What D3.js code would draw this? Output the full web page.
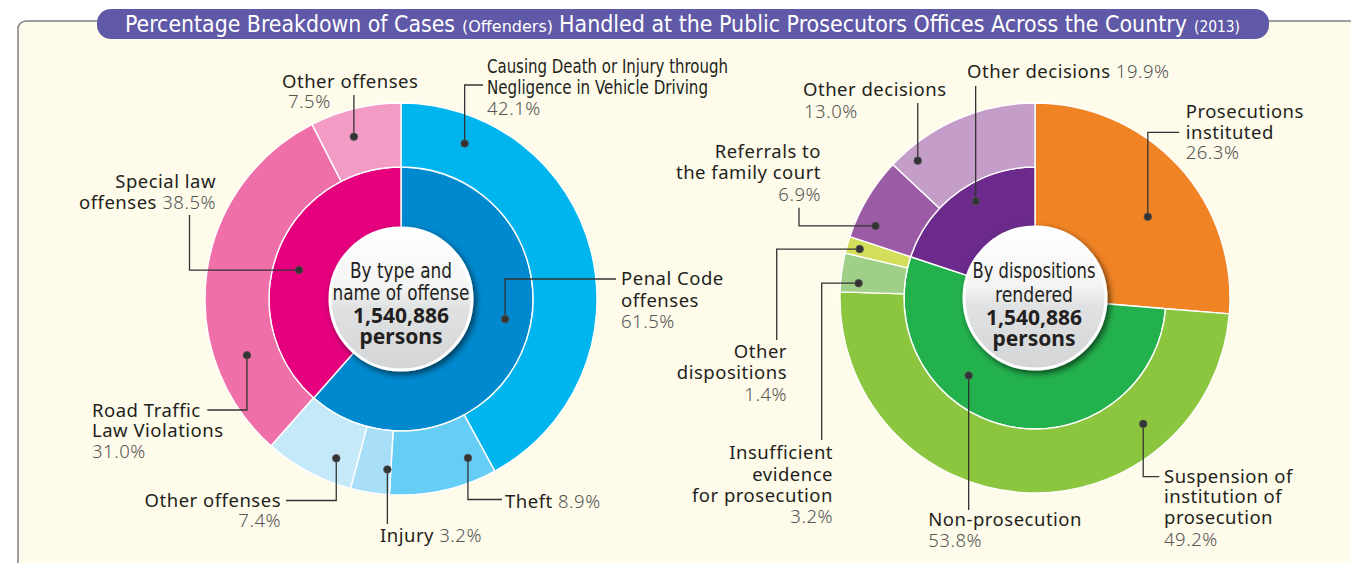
<!DOCTYPE html>
<html><head><meta charset="utf-8">
<script src="https://cdn.jsdelivr.net/npm/d3@7"></script>
<style>
html,body{margin:0;padding:0;background:#fff;}
svg{display:block;}
.cond{font-family:"Liberation Sans Narrow","Arial Narrow","DejaVu Sans Condensed","Roboto Condensed","Liberation Sans",sans-serif;font-stretch:condensed;}
.lbl{font-family:"Noto Sans","Open Sans",sans-serif;font-size:18.5px;letter-spacing:0.5px;}
.n{fill:#231f20;font-weight:450;}
.p{fill:#555;font-weight:300;}
</style></head>
<body><svg id="chart" width="1351" height="563"></svg>
<script>
// ---------------- data ----------------
const offenseInnerLabels = ["Penal Code offenses", "Special law offenses"];
const offenseInnerValues = [61.5, 38.5];
const offenseOuterLabels = ["Causing Death or Injury through Negligence in Vehicle Driving", "Theft", "Injury", "Other offenses (Penal Code)", "Road Traffic Law Violations", "Other offenses (Special law)"];
const offenseOuterValues = [42.1, 8.9, 3.2, 7.4, 31.0, 7.5];
const dispositionInnerLabels = ["Prosecutions instituted", "Non-prosecution", "Other decisions"];
const dispositionInnerValues = [26.3, 53.8, 19.9];
const dispositionOuterLabels = ["Suspension of institution of prosecution", "Insufficient evidence for prosecution", "Other dispositions", "Referrals to the family court", "Other decisions"];
const dispositionOuterValues = [49.2, 3.2, 1.4, 6.9, 13.0];
const totalPersons = 1540886;
const titleParts = ["Percentage Breakdown of Cases", "(Offenders)", "Handled at the Public Prosecutors Offices Across the Country", "(2013)"];

// ---------------- styles ----------------
const offenseInnerColors = ["#0089cf", "#e6007e"];
const offenseOuterColors = ["#00b5ee", "#66cdf4", "#a8def8", "#c6e9f9", "#ef6fa8", "#f39bc4"];
const dispositionInnerColors = ["#f08324", "#23b14d", "#6b2a8c"];
const dispositionOuterColors = ["#8cc63e", "#a0d087", "#d3df5a", "#9c5ba5", "#c59dc9"];

const svg = d3.select("#chart");
const defs = svg.append("defs");
const grad = defs.append("linearGradient").attr("id","ctrGrad").attr("x1",0).attr("y1",0).attr("x2",0).attr("y2",1);
[["0%","#ffffff"],["42%","#f4f4f4"],["56%","#e0e1e2"],["100%","#d4d5d7"]].forEach(s=>grad.append("stop").attr("offset",s[0]).attr("stop-color",s[1]));
const flt = defs.append("filter").attr("id","shadow").attr("x","-30%").attr("y","-30%").attr("width","160%").attr("height","160%");
flt.append("feDropShadow").attr("dx",2.5).attr("dy",3).attr("stdDeviation",3).attr("flood-color","#000").attr("flood-opacity",0.6);

// panel
svg.append("rect").attr("x",18).attr("y",21).attr("width",1400).attr("height",700).attr("rx",8)
  .attr("fill","#fefbea").attr("stroke","#808080").attr("stroke-width",1.5);
// title pill
svg.append("rect").attr("x",97).attr("y",9).attr("width",1172).attr("height",30).attr("rx",14)
  .attr("fill","#5f59a7");
const titleLayout = [
  {x:125, w:330, size:23.5},
  {x:462, w:91, size:16},
  {x:559, w:628, size:23.5},
  {x:1194, w:46, size:16}
];
titleParts.forEach((t,i)=>{
  const L = titleLayout[i];
  svg.append("text").attr("class","cond").attr("x",L.x).attr("y",32)
    .attr("font-size",L.size).attr("fill","#fff")
    .attr("textLength",L.w).attr("lengthAdjust","spacingAndGlyphs").text(t);
});

const fmtPct = v => d3.format(".1f")(v) + "%";
const fmtNum = d3.format(",");

function drawRing(g, values, colors, r0, r1, a0) {
  const pie = d3.pie().sort(null).startAngle(a0 || 0).endAngle(2*Math.PI);
  const arcs = pie(values);
  const arc = d3.arc().innerRadius(r0).outerRadius(r1);
  g.selectAll(null).data(arcs).enter().append("path")
    .attr("d", arc).attr("fill",(d,i)=>colors[i])
    .attr("stroke","#fff").attr("stroke-width",1.4).attr("stroke-linejoin","round");
  return arcs;
}

function drawCenter(g, lines) {
  g.append("circle").attr("r",71).attr("fill","url(#ctrGrad)").attr("stroke","#fff").attr("stroke-width",3)
    .attr("filter","url(#shadow)");
  lines.forEach(L=>{
    const t = g.append("text").attr("x",L.dx).attr("y",L.y).attr("text-anchor","middle").attr("fill","#231f20");
    if (L.bold) {
      t.attr("font-family","'Noto Sans','Open Sans',sans-serif").attr("font-weight",700).attr("font-size",21).text(L.text);
    } else {
      t.attr("class","cond").attr("font-size",22).attr("textLength",L.w).attr("lengthAdjust","spacingAndGlyphs").text(L.text);
    }
  });
}

function drawLabels(g, cx, cy, rings, specs) {
  specs.forEach(s=>{
    const d = rings[s.ring][s.i];
    const a = d.startAngle + s.t*(d.endAngle - d.startAngle);
    const x0 = cx + s.r*Math.sin(a), y0 = cy - s.r*Math.cos(a);
    let x = x0, y = y0, path = `M${x},${y}`;
    s.path.forEach(([c,v])=>{ if (c==="v") { y = v; } else { x = v; } path += `L${x},${y}`; });
    g.append("path").attr("d",path).attr("fill","none").attr("stroke","#333").attr("stroke-width",1.3);
    g.append("circle").attr("cx",x0).attr("cy",y0).attr("r",3.8).attr("fill","#333")
      .attr("stroke","#555").attr("stroke-width",0.8);
    s.lines.forEach(L=>{
      const pct = fmtPct(s.value);
      if (L.cond) {
        g.append("text").attr("class","cond").attr("x",L.x).attr("y",L.y).attr("font-size",19)
          .attr("fill","#231f20").attr("textLength",L.w).attr("lengthAdjust","spacingAndGlyphs").text(L.s[0][0]);
        return;
      }
      const t = g.append("text").attr("class","lbl").attr("x",L.x).attr("y",L.y).attr("text-anchor",L.a||"start");
      L.s.forEach(([txt,cls])=>{
        t.append("tspan").attr("class",cls).text(txt===null ? pct : txt);
      });
    });
  });
}

// ---------------- left chart ----------------
const LC = {x:401, y:299};
const gL = svg.append("g").attr("transform",`translate(${LC.x},${LC.y})`);
const offInner = drawRing(gL, offenseInnerValues, offenseInnerColors, 71, 132);
const offOuter = drawRing(gL, offenseOuterValues, offenseOuterColors, 132, 196);
drawCenter(gL, [
  {text:"By type and", dx:0, y:-21, w:102},
  {text:"name of offense", dx:0, y:1, w:137},
  {text:fmtNum(totalPersons), dx:0, y:24, bold:true},
  {text:"persons", dx:0, y:45, bold:true}
]);
const gLL = svg.append("g");
drawLabels(gLL, LC.x, LC.y, {inner:offInner, outer:offOuter}, [
  {ring:"outer", i:5, value:offenseOuterValues[5], t:0.40, r:169, path:[["v",95]],
    lines:[{x:282,y:87.5,s:[["Other offenses","n"]]},{x:288,y:108,s:[[null,"p"]]}]},
  {ring:"outer", i:0, value:offenseOuterValues[0], t:0.147, r:168, path:[["v",85],["h",483]],
    lines:[{x:487,y:72.5,cond:true,w:241,s:[["Causing Death or Injury through"]]},
           {x:487,y:93.5,cond:true,w:221,s:[["Negligence in Vehicle Driving"]]},
           {x:487,y:115,s:[[null,"p"]]}]},
  {ring:"inner", i:0, value:offenseInnerValues[0], t:0.456, r:106, path:[["v",279],["h",616]],
    lines:[{x:621,y:285,s:[["Penal Code","n"]]},{x:621,y:306.5,s:[["offenses","n"]]},{x:621,y:328,s:[[null,"p"]]}]},
  {ring:"inner", i:1, value:offenseInnerValues[1], t:0.465, r:106, path:[["h",189.5],["v",215]],
    lines:[{x:216,y:188.3,a:"end",s:[["Special law","n"]]},{x:216,y:209.3,a:"end",s:[["offenses ","n"],[null,"p"]]}]},
  {ring:"outer", i:4, value:offenseOuterValues[4], t:0.255, r:164, path:[["v",410],["h",207.3]],
    lines:[{x:92,y:416.7,s:[["Road Traffic","n"]]},{x:92,y:437.3,s:[["Law Violations","n"]]},{x:92,y:458.3,s:[[null,"p"]]}]},
  {ring:"outer", i:3, value:offenseOuterValues[3], t:0.27, r:172, path:[["v",500.5],["h",286]],
    lines:[{x:281,y:506.7,a:"end",s:[["Other offenses","n"]]},{x:281,y:526.7,a:"end",s:[[null,"p"]]}]},
  {ring:"outer", i:2, value:offenseOuterValues[2], t:0.1, r:171, path:[["v",524]],
    lines:[{x:380,y:542,s:[["Injury ","n"],[null,"p"]]}]},
  {ring:"outer", i:1, value:offenseOuterValues[1], t:0.18, r:172.5, path:[["v",499.5],["h",502]],
    lines:[{x:505,y:508,s:[["Theft ","n"],[null,"p"]]}]}
]);

// ---------------- right chart ----------------
const RC = {x:1035, y:298};
const gR = svg.append("g").attr("transform",`translate(${RC.x},${RC.y})`);
const dispInnerPie = d3.pie().sort(null)(dispositionInnerValues);
// Prosecutions instituted spans both rings
const dispInner = [];
dispInnerPie.forEach((d,i)=>{
  const arc = d3.arc().innerRadius(71).outerRadius(i===0 ? 195 : 131);
  gR.append("path").attr("d",arc(d)).attr("fill",dispositionInnerColors[i])
    .attr("stroke","#fff").attr("stroke-width",1.4).attr("stroke-linejoin","round");
  dispInner.push(d);
});
const dispOuter = drawRing(gR, dispositionOuterValues, dispositionOuterColors, 131, 195, dispInnerPie[0].endAngle);
drawCenter(gR, [
  {text:"By dispositions", dx:-1, y:-20, w:123},
  {text:"rendered", dx:-1, y:4, w:78},
  {text:fmtNum(totalPersons), dx:-1, y:27, bold:true},
  {text:"persons", dx:-1, y:48, bold:true}
]);
const gRL = svg.append("g");
drawLabels(gRL, RC.x, RC.y, {inner:dispInner, outer:dispOuter}, [
  {ring:"outer", i:4, value:dispositionOuterValues[4], t:0.135, r:180.6, path:[["v",103]],
    lines:[{x:803,y:96,s:[["Other decisions","n"]]},{x:804,y:118,s:[[null,"p"]]}]},
  {ring:"outer", i:3, value:dispositionOuterValues[3], t:0.24, r:175, path:[["h",799],["v",207.7]],
    lines:[{x:821,y:158.3,a:"end",s:[["Referrals to","n"]]},{x:821,y:179.3,a:"end",s:[["the family court","n"]]},{x:821,y:200.7,a:"end",s:[[null,"p"]]}]},
  {ring:"outer", i:2, value:dispositionOuterValues[2], t:0.45, r:182, path:[["h",776.7],["v",340]],
    lines:[{x:787,y:358.3,a:"end",s:[["Other","n"]]},{x:787,y:379.3,a:"end",s:[["dispositions","n"]]},{x:787,y:400.7,a:"end",s:[[null,"p"]]}]},
  {ring:"outer", i:1, value:dispositionOuterValues[1], t:0.26, r:177, path:[["h",821.7],["v",440]],
    lines:[{x:833,y:459.3,a:"end",s:[["Insufficient","n"]]},{x:833,y:480.7,a:"end",s:[["evidence","n"]]},{x:833,y:501.7,a:"end",s:[["for prosecution","n"]]},{x:833,y:523.3,a:"end",s:[[null,"p"]]}]},
  {ring:"inner", i:2, value:dispositionInnerValues[2], t:0.56, r:113.5, path:[["v",86]],
    lines:[{x:967,y:78,s:[["Other decisions ","n"],[null,"p"]]}]},
  {ring:"inner", i:0, value:dispositionInnerValues[0], t:0.573, r:139, path:[["v",132.3],["h",1179.3]],
    lines:[{x:1185.7,y:118.3,s:[["Prosecutions","n"]]},{x:1185.7,y:139.3,s:[["instituted","n"]]},{x:1185.7,y:159.3,s:[[null,"p"]]}]},
  {ring:"outer", i:0, value:dispositionOuterValues[0], t:0.252, r:166, path:[["v",476.7],["h",1159.3]],
    lines:[{x:1164,y:482.7,s:[["Suspension of","n"]]},{x:1164,y:503.3,s:[["institution of","n"]]},{x:1164,y:524.3,s:[["prosecution","n"]]},{x:1164,y:545.7,s:[[null,"p"]]}]},
  {ring:"inner", i:1, value:dispositionInnerValues[1], t:0.65, r:102, path:[["v",510]],
    lines:[{x:928.3,y:525.7,s:[["Non-prosecution","n"]]},{x:928.3,y:546.7,s:[[null,"p"]]}]}
]);
</script>
</body></html>
